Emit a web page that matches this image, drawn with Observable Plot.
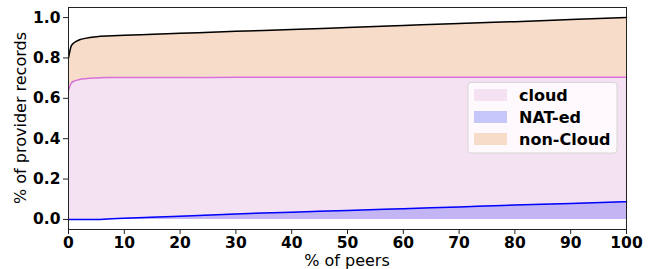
<!DOCTYPE html>
<html>
<head>
<meta charset="utf-8">
<script src="https://cdn.jsdelivr.net/npm/d3@7"></script>
<script src="https://cdn.jsdelivr.net/npm/@observablehq/plot@0.6"></script>
<style>
  html, body { margin: 0; padding: 0; background: #fff; }
  #chart svg { display: block; }
</style>
</head>
<body>
<div id="chart"></div>
<script>
// % of peers
const peers = [0, 0.5, 1, 2, 3, 5, 7, 10, 20, 30, 40, 50, 60, 70, 80, 90, 100];
// total (cloud + non-Cloud) cumulative share
const totalShare = [0.80, 0.86, 0.875, 0.89, 0.897, 0.905, 0.909, 0.912, 0.922, 0.932, 0.941, 0.951, 0.961, 0.971, 0.980, 0.990, 1.0];
// cloud cumulative share
const cloudShare = [0.64, 0.675, 0.685, 0.693, 0.697, 0.701, 0.703, 0.703, 0.703, 0.704, 0.704, 0.705, 0.705, 0.705, 0.705, 0.705, 0.705];
// NAT-ed cumulative share
const natShare = [0, 0, 0, 0, 0, 0, 0.002, 0.006, 0.016, 0.027, 0.036, 0.044, 0.053, 0.062, 0.071, 0.079, 0.088];

const seriesNames = ["cloud", "NAT-ed", "non-Cloud"];
const xTicks = [0, 10, 20, 30, 40, 50, 60, 70, 80, 90, 100];
const yTicks = [0, 0.2, 0.4, 0.6, 0.8, 1.0];

const rows = peers.map((p, i) => ({x: p, total: totalShare[i], cloud: cloudShare[i], nat: natShare[i]}));

const colors = {cloud: "#f4e1f1", nat: "#c6c6fb", non: "#f6dcc9"};

const plot = Plot.plot({
  width: 652,
  height: 269,
  marginLeft: 68,
  marginRight: 26,
  marginTop: 7,
  marginBottom: 40,
  style: {fontFamily: "DejaVu Sans", background: "#fff", overflow: "visible"},
  x: {domain: [0, 100], ticks: xTicks, tickSize: 5, tickPadding: 2, label: null},
  y: {domain: [-0.05, 1.05], ticks: yTicks, tickSize: 5, tickPadding: 3, tickFormat: d3.format(".1f"), label: null},
  marks: [
    Plot.areaY(rows, {x: "x", y1: 0, y2: "cloud", fill: colors.cloud, curve: "monotone-x"}),
    Plot.areaY(rows, {x: "x", y1: "cloud", y2: "total", fill: colors.non, curve: "monotone-x"}),
    Plot.areaY(rows, {x: "x", y1: 0, y2: "nat", fill: "blue", fillOpacity: 0.2, curve: "monotone-x"}),
    Plot.line(rows, {x: "x", y: "cloud", stroke: "#da70d6", strokeWidth: 1.5, curve: "monotone-x"}),
    Plot.line(rows, {x: "x", y: "total", stroke: "#000", strokeWidth: 1.5, curve: "monotone-x"}),
    Plot.line(rows, {x: "x", y: "nat", stroke: "blue", strokeWidth: 1.5, curve: "monotone-x"}),
    Plot.axisX({ticks: xTicks, tickSize: 5, tickPadding: 2, fill: "#000", stroke: "#222", label: null}),
    Plot.axisY({ticks: yTicks, tickSize: 5, tickPadding: 3, fill: "#000", stroke: "#222", tickFormat: d3.format(".1f"), label: null}),
    Plot.frame({stroke: "#222", strokeWidth: 1})
  ]
});

const svg = d3.select(plot);
svg.selectAll("[aria-label='x-axis tick label'] text, [aria-label='y-axis tick label'] text")
  .style("font-weight", "bold").style("font-size", "15.5px").style("font-family", "DejaVu Sans");

// axis titles
svg.append("text").attr("x", 347).attr("y", 265.5).style("text-anchor", "middle")
  .style("font-family", "DejaVu Sans").style("font-size", "16px").attr("fill", "#000").text("% of peers");
svg.append("text").attr("transform", "translate(26,118) rotate(-90)").style("text-anchor", "middle")
  .style("font-family", "DejaVu Sans").style("font-size", "16px").attr("fill", "#000").text("% of provider records");

// legend
const lg = svg.append("g");
lg.append("rect").attr("x", 468).attr("y", 82.5).attr("width", 149).attr("height", 70.5)
  .attr("rx", 3).attr("fill", "#fff").attr("fill-opacity", 0.8).attr("stroke", "#d6d6d6");
const legendFills = [colors.cloud, colors.nat, colors.non];
seriesNames.forEach((name, i) => {
  const y = 89 + i * 22;
  lg.append("rect").attr("x", 474).attr("y", y).attr("width", 33).attr("height", 12).attr("fill", legendFills[i]);
  lg.append("text").attr("x", 519).attr("y", y + 11.5).style("text-anchor", "start").style("font-family", "DejaVu Sans")
    .style("font-weight", "bold").style("font-size", "16px").attr("fill", "#000").text(name);
});

document.getElementById("chart").appendChild(plot);
</script>
</body>
</html>
